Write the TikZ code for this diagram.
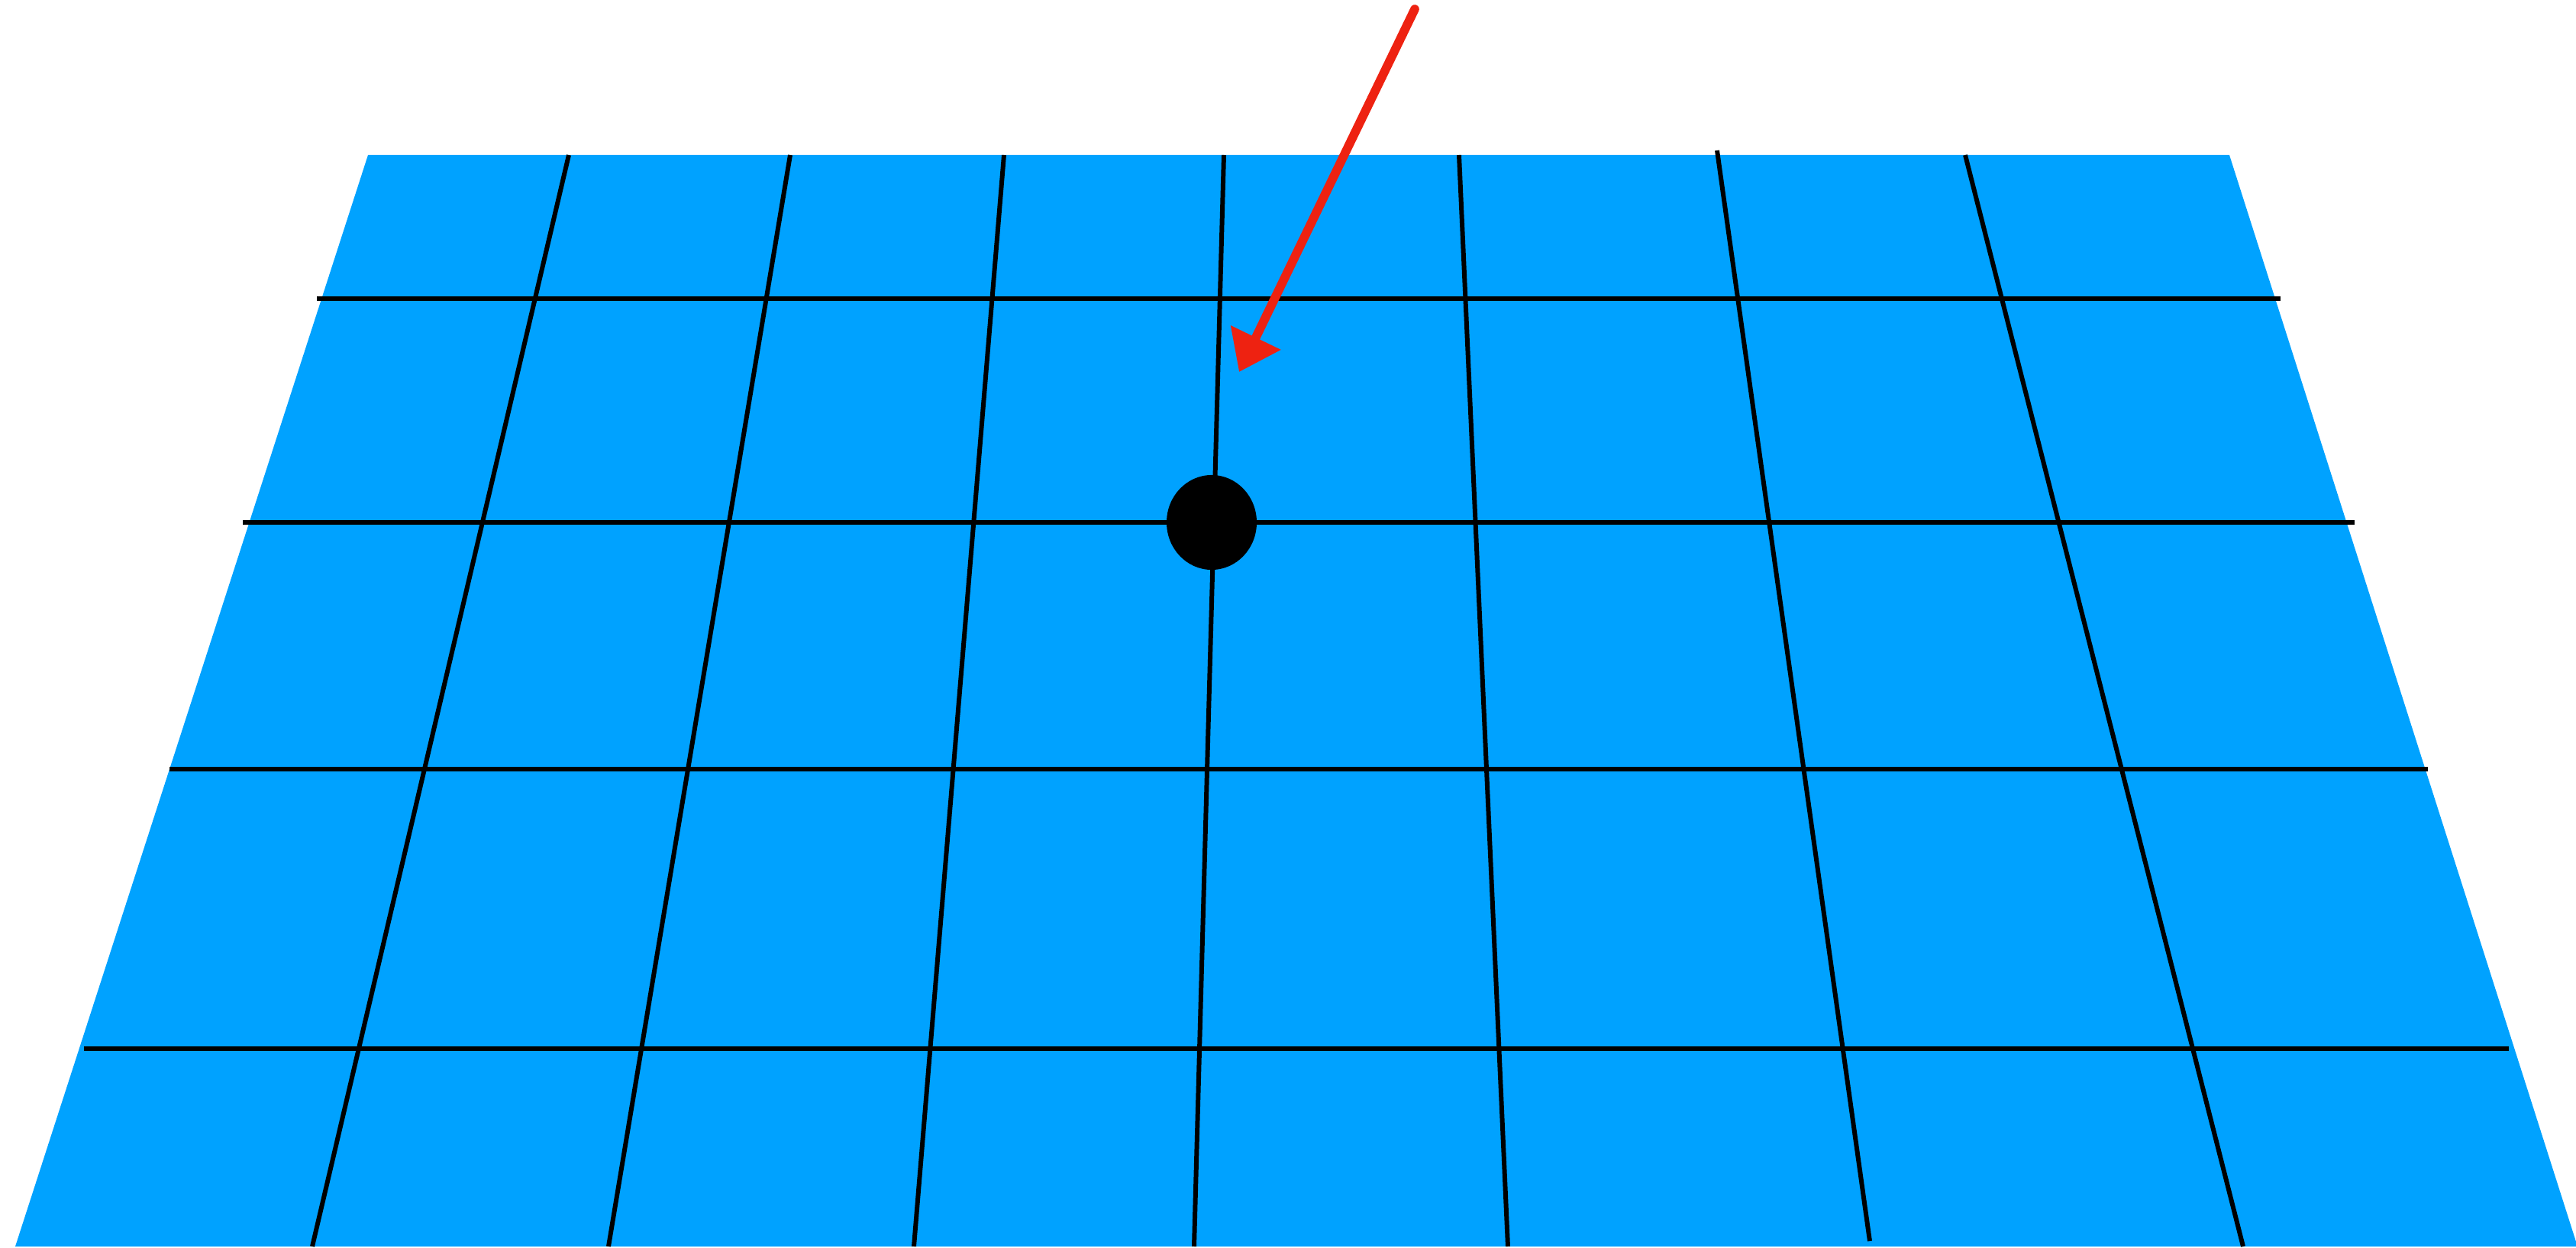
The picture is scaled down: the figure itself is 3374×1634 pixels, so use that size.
\documentclass[tikz,border=0pt]{standalone}
\usepackage{tikz}
\usepackage{xcolor}
\usetikzlibrary{shapes.geometric, arrows.meta}

\definecolor{planeblue}{RGB}{0,162,255}
\definecolor{markred}{RGB}{238,34,17}

\begin{document}
\begin{tikzpicture}[x=0.01cm, y=-0.01cm,
        plane/.style={fill=planeblue, draw=none},
        gridline/.style={draw=black, line width=1.7pt},
        dot/.style={ellipse, fill=black, draw=none, inner sep=0pt, minimum width=1.18cm, minimum height=1.24cm},
        pointer/.style={draw=markred, line width=3.3pt, line cap=round, -{Triangle[length=5mm, width=7mm]}}
    ]

    \useasboundingbox (0,0) rectangle (3374,1634);

    % --- 1. GROUND PLANE ---
    \path [plane] (482,203) -- (2920,203) -- (3376,1632) -- (20,1632) -- cycle;

    % --- 2. GRID ---
    % rows
    \foreach \xa/\xb/\ya in {415/2987/391, 318/3084/684, 222/3180/1007, 110/3286/1373}
        \draw [gridline] (\xa,\ya) -- (\xb,\ya);
    % columns
    \foreach \xa/\ya/\xb/\yb in {745/203/409/1632, 1035/203/797/1632, 1315/203/1197/1632,
                                 1603/203/1564/1632, 1911/203/1975/1632, 2249/197/2449/1625,
                                 2574/203/2938/1632}
        \draw [gridline] (\xa,\ya) -- (\xb,\yb);

    % --- 3. POINT AND POINTER ---
    \node [dot] (spot) at (1587,684) {};

    \coordinate (pointer_start) at (1853,12);
    \coordinate (pointer_tip) at (1623,487);
    \draw [pointer] (pointer_start) -- (pointer_tip);

\end{tikzpicture}
\end{document}
